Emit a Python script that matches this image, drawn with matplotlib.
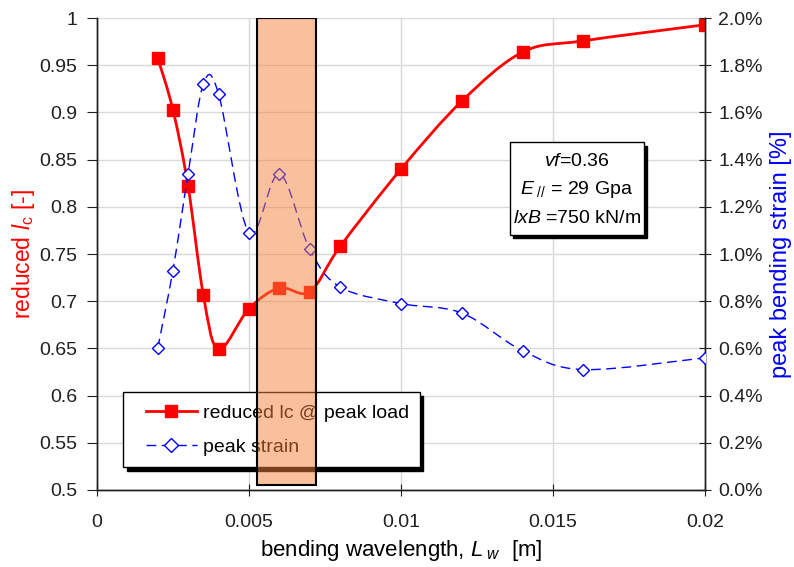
import numpy as np
import matplotlib
matplotlib.use("Agg")
import matplotlib.pyplot as plt
from matplotlib.path import Path
from matplotlib.patches import PathPatch, Rectangle
from matplotlib.lines import Line2D
from matplotlib.ticker import FuncFormatter, MultipleLocator

# ---------------- data ----------------
wavelength = [0.002, 0.0025, 0.003, 0.0035, 0.004, 0.005, 0.006, 0.007,
              0.008, 0.010, 0.012, 0.014, 0.016, 0.020]
reduced_lc = [0.958, 0.903, 0.822, 0.707, 0.649, 0.692, 0.714, 0.710,
              0.758, 0.840, 0.912, 0.964, 0.976, 0.993]
peak_strain = [0.60, 0.93, 1.34, 1.72, 1.68, 1.09, 1.34, 1.02,
               0.86, 0.79, 0.75, 0.59, 0.51, 0.56]  # percent
band = [0.00526, 0.00720]  # highlighted wavelength range
x_ticks = [0, 0.005, 0.01, 0.015, 0.02]
x_ticklabels = ["0", "0.005", "0.01", "0.015", "0.02"]
legend_labels = ["reduced lc @ peak load", "peak strain"]

plt.rcParams["font.family"] = ["Liberation Sans", "DejaVu Sans"]
plt.rcParams["mathtext.fontset"] = "custom"
plt.rcParams["mathtext.rm"] = "Liberation Sans"
plt.rcParams["mathtext.it"] = "Liberation Sans:italic"
plt.rcParams["mathtext.bf"] = "Liberation Sans:bold"


def smooth_path(x, y):
    """Excel-like smoothed line as cubic Bezier through the data points."""
    x = np.asarray(x, float)
    y = np.asarray(y, float)
    n = len(x)
    verts = [(x[0], y[0])]
    codes = [Path.MOVETO]
    for i in range(n - 1):
        p0 = np.array([x[max(i - 1, 0)], y[max(i - 1, 0)]])
        p1 = np.array([x[i], y[i]])
        p2 = np.array([x[i + 1], y[i + 1]])
        p3 = np.array([x[min(i + 2, n - 1)], y[min(i + 2, n - 1)]])
        c1 = p1 + (p2 - p0) / 6.0
        c2 = p2 - (p3 - p1) / 6.0
        verts += [tuple(c1), tuple(c2), tuple(p2)]
        codes += [Path.CURVE4] * 3
    return Path(verts, codes)


fig = plt.figure(figsize=(7.94, 5.67), dpi=100)
ax = fig.add_axes([0.122, 0.136, 0.766, 0.832])
ax2 = ax.twinx()

RED = "#ff0000"
BLUE = "#0000ff"
DASH = (0, (7, 4))

# red series
ax.add_patch(PathPatch(smooth_path(wavelength, reduced_lc), facecolor="none",
                       edgecolor=RED, lw=2.0, zorder=3))
ax.plot(wavelength, reduced_lc, linestyle="none", marker="s", ms=8.5,
        color=RED, zorder=4)

# blue series
ax2.add_patch(PathPatch(smooth_path(wavelength, peak_strain), facecolor="none",
                        edgecolor=BLUE, lw=1.0, linestyle=DASH, zorder=3))
ax2.plot(wavelength, peak_strain, linestyle="none", marker="D", ms=6.5,
         mfc="white", mec=BLUE, mew=1.0, zorder=4)

# axes setup
ax.set_xlim(0, 0.02)
ax.set_ylim(0.5, 1.0)
ax2.set_ylim(0, 2.0)
ax.set_xticks(x_ticks)
ax.set_xticklabels(x_ticklabels)
ax.yaxis.set_major_locator(MultipleLocator(0.05))
ax.yaxis.set_major_formatter(FuncFormatter(lambda v, p: ("%.2f" % v).rstrip("0").rstrip(".")))
ax2.yaxis.set_major_locator(MultipleLocator(0.2))
ax2.yaxis.set_major_formatter(FuncFormatter(lambda v, p: "%.1f%%" % v))

ax.grid(True, color="#d9d9d9", lw=1.0)
ax.set_axisbelow(True)
for a in (ax, ax2):
    a.spines["top"].set_visible(False)
    for s in ("left", "right", "bottom"):
        a.spines[s].set_color("#202020")
        a.spines[s].set_linewidth(1.0)
ax.tick_params(axis="y", direction="out", length=7, labelsize=14, colors="#202020", pad=7)
ax.tick_params(axis="x", direction="inout", length=9, labelsize=14, colors="#202020", pad=13)
ax2.tick_params(axis="y", direction="inout", length=9, labelsize=14, colors="#202020", pad=5)

ax.set_xlabel(r"bending wavelength, $\mathit{L}_{\ \mathit{w}}$  [m]", fontsize=16, labelpad=5)
ax.set_ylabel(r"reduced $\mathit{l}_{\mathrm{c}}$ [-]", fontsize=16.5, color=RED, labelpad=2)
fig.text(0.998, 0.552, "peak bending strain [%]", rotation=90, fontsize=17,
         color=BLUE, ha="right", va="center")

# legend (frame drawn separately with a hard shadow)
h1 = Line2D([], [], color=RED, lw=2.0, marker="s", ms=9)
h2 = Line2D([], [], color=BLUE, lw=1.0, linestyle=DASH, marker="D",
            ms=7, mfc="white", mec=BLUE)
ax2.add_patch(Rectangle((0.049, 0.041), 0.488, 0.159, transform=ax2.transAxes,
                        facecolor="black", edgecolor="black", zorder=4))
ax2.add_patch(Rectangle((0.043, 0.049), 0.488, 0.159, transform=ax2.transAxes,
                        facecolor="white", edgecolor="black", lw=1.0, zorder=4.5))
leg = ax2.legend([h1, h2], legend_labels, loc="upper left",
                 bbox_to_anchor=(0.080, 0.181), borderaxespad=0, borderpad=0,
                 fontsize=14, frameon=False, handlelength=2.65,
                 handletextpad=0.3, labelspacing=0.85)
leg.set_zorder(5)

# parameter text box with shadow
ax2.add_patch(Rectangle((0.684, 0.533), 0.221, 0.197, transform=ax2.transAxes,
                        facecolor="black", edgecolor="black", zorder=6))
ax2.add_patch(Rectangle((0.679, 0.540), 0.221, 0.197, transform=ax2.transAxes,
                        facecolor="white", edgecolor="black", lw=1.0, zorder=6))
cx = 0.7895
ax2.text(cx, 0.697, r"$\mathit{vf}$=0.36", transform=ax2.transAxes,
         ha="center", va="center", fontsize=14, zorder=7)
ax2.text(cx, 0.636, r"$\mathit{E}_{\ \mathit{//}}$ = 29 Gpa", transform=ax2.transAxes,
         ha="center", va="center", fontsize=14, zorder=7)
ax2.text(cx, 0.575, r"$\mathit{lxB}$ =750 kN/m", transform=ax2.transAxes,
         ha="center", va="center", fontsize=14, zorder=7)

# highlighted band (semi-transparent, drawn on top)
ax2.axvspan(band[0], band[1], ymin=0.01, ymax=1.0, facecolor="#f3823a",
            alpha=0.5, edgecolor="none", zorder=10)
ax2.axvspan(band[0], band[1], ymin=0.01, ymax=1.0, facecolor="none",
            edgecolor="black", lw=1.5, zorder=11)

fig.savefig("out.png", dpi=100)
